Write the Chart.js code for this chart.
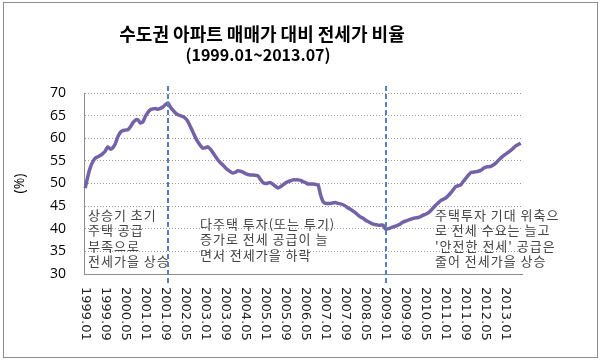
<!DOCTYPE html>
<html>
<head>
<meta charset="utf-8">
<script src="https://cdn.jsdelivr.net/npm/chart.js@4.4.0/dist/chart.umd.min.js"></script>
<style>
  body{margin:0;background:#fff;}
  #wrap{width:600px;height:361px;}
</style>
</head>
<body>
<div id="wrap"><canvas id="chart" width="600" height="361"></canvas></div>
<script>
// 전세가 비율 (%) 1999.01 ~ 2013.07, monthly
var ratio=[
	49.0,51.5,53.5,54.8,55.6,55.9,56.2,56.6,57.2,58.1,57.6,57.9,
	58.8,60.3,61.3,61.7,61.8,61.9,62.5,63.4,64.0,64.1,63.4,63.6,
	64.8,65.7,66.3,66.5,66.6,66.4,66.6,66.9,67.4,67.8,66.9,66.2,
	65.6,65.2,65.0,64.8,64.4,63.7,62.6,61.4,60.2,59.2,58.4,57.8,
	57.9,58.1,57.6,56.8,56.0,55.2,54.6,54.1,53.5,53.0,52.6,52.3,
	52.5,52.8,52.7,52.5,52.2,52.0,51.9,51.9,51.8,51.7,50.9,50.2,
	50.0,50.1,50.2,49.8,49.4,49.0,49.3,49.7,50.1,50.4,50.6,50.8,
	50.8,50.8,50.7,50.4,50.2,49.9,49.9,49.9,49.8,49.7,47.5,46.0,
	45.6,45.6,45.6,45.7,45.8,45.6,45.5,45.3,45.0,44.6,44.3,43.9,
	43.5,43.0,42.6,42.3,41.9,41.6,41.3,41.0,40.9,40.8,40.8,40.8,
	39.9,40.0,40.2,40.4,40.6,40.8,41.1,41.5,41.7,41.9,42.1,42.3,
	42.4,42.5,42.7,43.0,43.2,43.5,44.0,44.6,45.2,45.7,46.2,46.5,
	46.8,47.3,47.9,48.6,49.3,49.5,49.7,50.4,51.1,51.8,52.4,52.5,
	52.6,52.7,52.9,53.3,53.6,53.7,53.8,54.1,54.5,55.1,55.6,56.1,
	56.5,56.9,57.3,57.8,58.3,58.6,58.9
];
var tickLabels=["1999.01","1999.09","2000.05","2001.01","2001.09","2002.05","2003.01","2003.09",
	"2004.05","2005.01","2005.09","2006.05","2007.01","2007.09","2008.05","2009.01","2009.09",
	"2010.05","2011.01","2011.09","2012.05","2013.01"];
var markLines=[33,120]; // 2001.10, 2009.01
var notes=[
	{x:88,y:215,lines:["상승기 초기","주택 공급","부족으로","전세가을 상승"]},
	{x:200,y:224,lines:["다주택 투자(또는 투기)","증가로 전세 공급이 늘","면서 전세가을 하락"]},
	{x:435,y:215,lines:["주택투자 기대 위축으","로 전세 수요는 늘고","'안전한 전세' 공급은","줄어 전세가을 상승"]}
];

var months=[];
for(var i=0;i<ratio.length;i++){
	var y=1999+Math.floor(i/12),m=i%12+1;
	months.push(y+"."+(m<10?"0"+m:m));
}

var extras={
	id:"extras",
	beforeDraw:function(chart){
		var ctx=chart.ctx;
		ctx.save();
		ctx.fillStyle="#fff";
		ctx.fillRect(0,0,chart.width,chart.height);
		ctx.strokeStyle="#8c8c8c";
		ctx.lineWidth=1;
		ctx.strokeRect(3.5,2.5,594,355);
		ctx.fillStyle="#000";
		ctx.textAlign="center";
		ctx.textBaseline="middle";
		ctx.font="bold 18px 'Noto Sans CJK KR'";
		ctx.fillText("수도권 아파트 매매가 대비 전세가 비율",262,34);
		ctx.font="bold 16px 'Noto Sans CJK KR'";
		ctx.fillText("(1999.01~2013.07)",258,55);
		ctx.restore();
	},
	afterDatasetsDraw:function(chart){
		var ctx=chart.ctx,xs=chart.scales.x;
		ctx.save();
		ctx.strokeStyle="#5582bb";
		ctx.lineWidth=2;
		ctx.setLineDash([5,3]);
		markLines.forEach(function(idx){
			var px=Math.round(xs.getPixelForValue(idx));
			ctx.beginPath();
			ctx.moveTo(px,86);
			ctx.lineTo(px,285);
			ctx.stroke();
		});
		ctx.restore();
	},
	afterDraw:function(chart){
		var ctx=chart.ctx,xs=chart.scales.x;
		ctx.save();
		ctx.fillStyle="#222";
		ctx.font="13px 'DejaVu Sans'";
		ctx.textAlign="left";
		ctx.textBaseline="middle";
		for(var k=0;k<tickLabels.length;k++){
			var px=xs.getPixelForValue(k*8);
			ctx.save();
			ctx.translate(px,287);
			ctx.rotate(Math.PI/2);
			ctx.fillText(tickLabels[k],0,0);
			ctx.restore();
		}
		ctx.fillStyle="#444";
		ctx.font="13px 'Noto Sans CJK KR'";
		ctx.letterSpacing="1px";
		notes.forEach(function(n){
			for(var j=0;j<n.lines.length;j++){
				ctx.fillText(n.lines[j],n.x,n.y+j*15.5);
			}
		});
		ctx.restore();
	}
};

new Chart("chart",{
	type:"line",
	data:{
		labels:months,
		datasets:[{
			data:ratio,
			borderColor:"#7462a6",
			borderWidth:3.5,
			pointRadius:0,
			tension:0.2,
			fill:false
		}]
	},
	options:{
		responsive:false,
		animation:false,
		devicePixelRatio:1,
		layout:{padding:{left:0,right:78,top:93,bottom:0}},
		plugins:{legend:{display:false},tooltip:{enabled:false}},
		scales:{
			x:{
				offset:true,
				grid:{display:false},
				border:{display:true,color:"#8c8c8c",width:1},
				ticks:{display:false},
				afterFit:function(s){s.height=87;}
			},
			y:{
				min:30,max:70,
				ticks:{stepSize:5,color:"#000",padding:18,font:{family:"'Open Sans'",size:14}},
				grid:{color:"#9a9a9a",drawTicks:false,lineWidth:1},
				border:{display:true,color:"#8c8c8c",width:1,dash:[1,2]},
				title:{display:true,text:"(%)",color:"#000",font:{family:"'Open Sans'",size:14},padding:{top:12,bottom:0}},
				afterFit:function(s){s.width=84;}
			}
		}
	},
	plugins:[extras]
});
</script>
</body>
</html>
